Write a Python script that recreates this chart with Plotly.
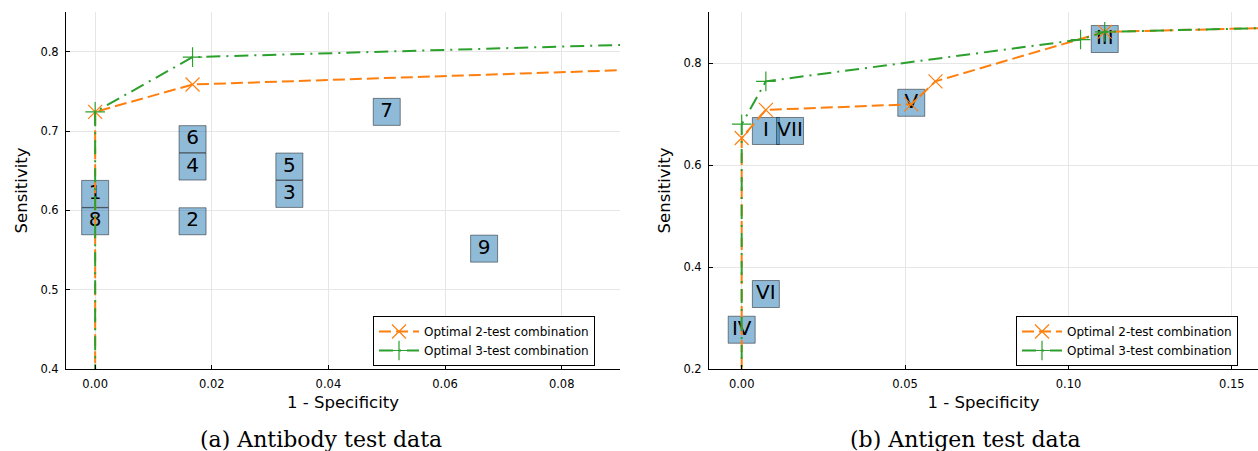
import plotly.graph_objects as go

# ---- Antibody tests (single tests, numbered) ----
ab_labels = ["1", "2", "3", "4", "5", "6", "7", "8", "9"]
ab_fpr = [0.0, 0.0167, 0.0333, 0.0167, 0.0333, 0.0167, 0.05, 0.0, 0.0667]
ab_tpr = [0.6207, 0.5862, 0.6207, 0.6552, 0.6552, 0.6897, 0.7241, 0.5862, 0.5517]

# optimal combinations (antibody)
ab2_fpr = [0.0, 0.0, 0.0167, 1.0]
ab2_tpr = [0.0, 0.7241, 0.7586, 1.0]
ab3_fpr = [0.0, 0.0, 0.0167, 1.0]
ab3_tpr = [0.0, 0.7241, 0.7931, 1.0]

# ---- Antigen tests (single tests, roman numerals) ----
ag_labels = ["I", "III", "IV", "V", "VI", "VII"]
ag_fpr = [0.0074, 0.1111, 0.0, 0.0519, 0.0074, 0.0148]
ag_tpr = [0.6667, 0.847, 0.277, 0.722, 0.347, 0.6667]

# optimal combinations (antigen)
ag2_fpr = [0.0, 0.0, 0.0074, 0.0519, 0.0593, 0.1111, 1.0]
ag2_tpr = [0.0, 0.653, 0.708, 0.719, 0.764, 0.861, 1.0]
ag3_fpr = [0.0, 0.0, 0.0074, 0.1037, 0.1111, 1.0]
ag3_tpr = [0.0, 0.68, 0.764, 0.846, 0.861, 1.0]

BOX_FILL = "rgba(31,119,180,0.5)"
BOX_EDGE = "rgba(0,0,0,0.45)"
ORANGE = "#ff7f0e"
GREEN = "#2ca02c"
SANS = "DejaVu Sans"
SERIF = "DejaVu Serif"

W, H = 1258, 451


def px_x(p):
    return p / W


def px_y(p):
    return 1 - p / H


fig = go.Figure()


def add_panel(xa, ya, legend, fpr, tpr, labels, f2, t2, f3, t3):
    fig.add_trace(go.Scatter(
        x=fpr, y=tpr, text=labels, mode="markers+text",
        textposition="middle center",
        textfont=dict(family=SANS, size=20, color="black"),
        marker=dict(symbol="square", size=27, color=BOX_FILL,
                    line=dict(color=BOX_EDGE, width=1)),
        xaxis=xa, yaxis=ya, showlegend=False, hoverinfo="skip",
    ))
    fig.add_trace(go.Scatter(
        x=f2, y=t2, mode="lines+markers", name="Optimal 2-test combination",
        line=dict(color=ORANGE, width=2, dash="12px,5px"),
        marker=dict(symbol="x-thin", size=14,
                    line=dict(color=ORANGE, width=1.2)),
        xaxis=xa, yaxis=ya, legend=legend,
    ))
    fig.add_trace(go.Scatter(
        x=f3, y=t3, mode="lines+markers", name="Optimal 3-test combination",
        line=dict(color=GREEN, width=2, dash="14px,6px,2px,6px"),
        marker=dict(symbol="cross-thin", size=14,
                    line=dict(color=GREEN, width=1.2)),
        xaxis=xa, yaxis=ya, legend=legend,
    ))


add_panel("x", "y", "legend", ab_fpr, ab_tpr, ab_labels,
          ab2_fpr, ab2_tpr, ab3_fpr, ab3_tpr)
add_panel("x2", "y2", "legend2", ag_fpr, ag_tpr, ag_labels,
          ag2_fpr, ag2_tpr, ag3_fpr, ag3_tpr)

axis_common = dict(
    showline=True, linecolor="black", linewidth=1, mirror=False,
    ticks="inside", ticklen=4, tickcolor="black",
    showgrid=True, gridcolor="#e6e6e6", gridwidth=1,
    zeroline=False, automargin=False,
    tickfont=dict(family=SANS, size=11.5, color="black"),
    title_font=dict(family=SANS, size=16.5, color="black"),
)

y_dom = [px_y(369), px_y(12)]

legend_common = dict(
    xanchor="left", yanchor="top",
    bordercolor="black", borderwidth=1, bgcolor="white",
    font=dict(family=SANS, size=12, color="black"),
    tracegroupgap=0, itemwidth=40,
)

fig.update_layout(
    width=W, height=H,
    margin=dict(l=0, r=0, t=0, b=0),
    paper_bgcolor="white", plot_bgcolor="white",
    xaxis=dict(axis_common, domain=[px_x(66), px_x(620)], range=[-0.005, 0.09],
               tickvals=[0, 0.02, 0.04, 0.06, 0.08], tickformat=".2f",
               ticklabelstandoff=4,
               title=dict(text="1 - Specificity", standoff=6), anchor="y"),
    yaxis=dict(axis_common, domain=y_dom, range=[0.4, 0.85],
               tickvals=[0.4, 0.5, 0.6, 0.7, 0.8], tickformat=".1f",
               ticklabelstandoff=4,
               title=dict(text="Sensitivity", standoff=8), anchor="x"),
    xaxis2=dict(axis_common, domain=[px_x(709), 1.0], range=[-0.01, 0.158],
                tickvals=[0, 0.05, 0.10, 0.15], tickformat=".2f",
                ticklabelstandoff=4,
                title=dict(text="1 - Specificity", standoff=6), anchor="y2"),
    yaxis2=dict(axis_common, domain=y_dom, range=[0.2, 0.9],
                tickvals=[0.2, 0.4, 0.6, 0.8], tickformat=".1f",
                ticklabelstandoff=4,
                title=dict(text="Sensitivity", standoff=8), anchor="x2"),
    legend=dict(legend_common, x=px_x(373), y=px_y(316)),
    legend2=dict(legend_common, x=px_x(1016), y=px_y(316)),
    annotations=[
        dict(text="(a) Antibody test data", x=px_x(321), y=px_y(439),
             xref="paper", yref="paper", showarrow=False,
             xanchor="center", yanchor="middle",
             font=dict(family=SERIF, size=22, color="black")),
        dict(text="(b) Antigen test data", x=px_x(965), y=px_y(439),
             xref="paper", yref="paper", showarrow=False,
             xanchor="center", yanchor="middle",
             font=dict(family=SERIF, size=22, color="black")),
    ],
)

fig.write_html("out.html")
